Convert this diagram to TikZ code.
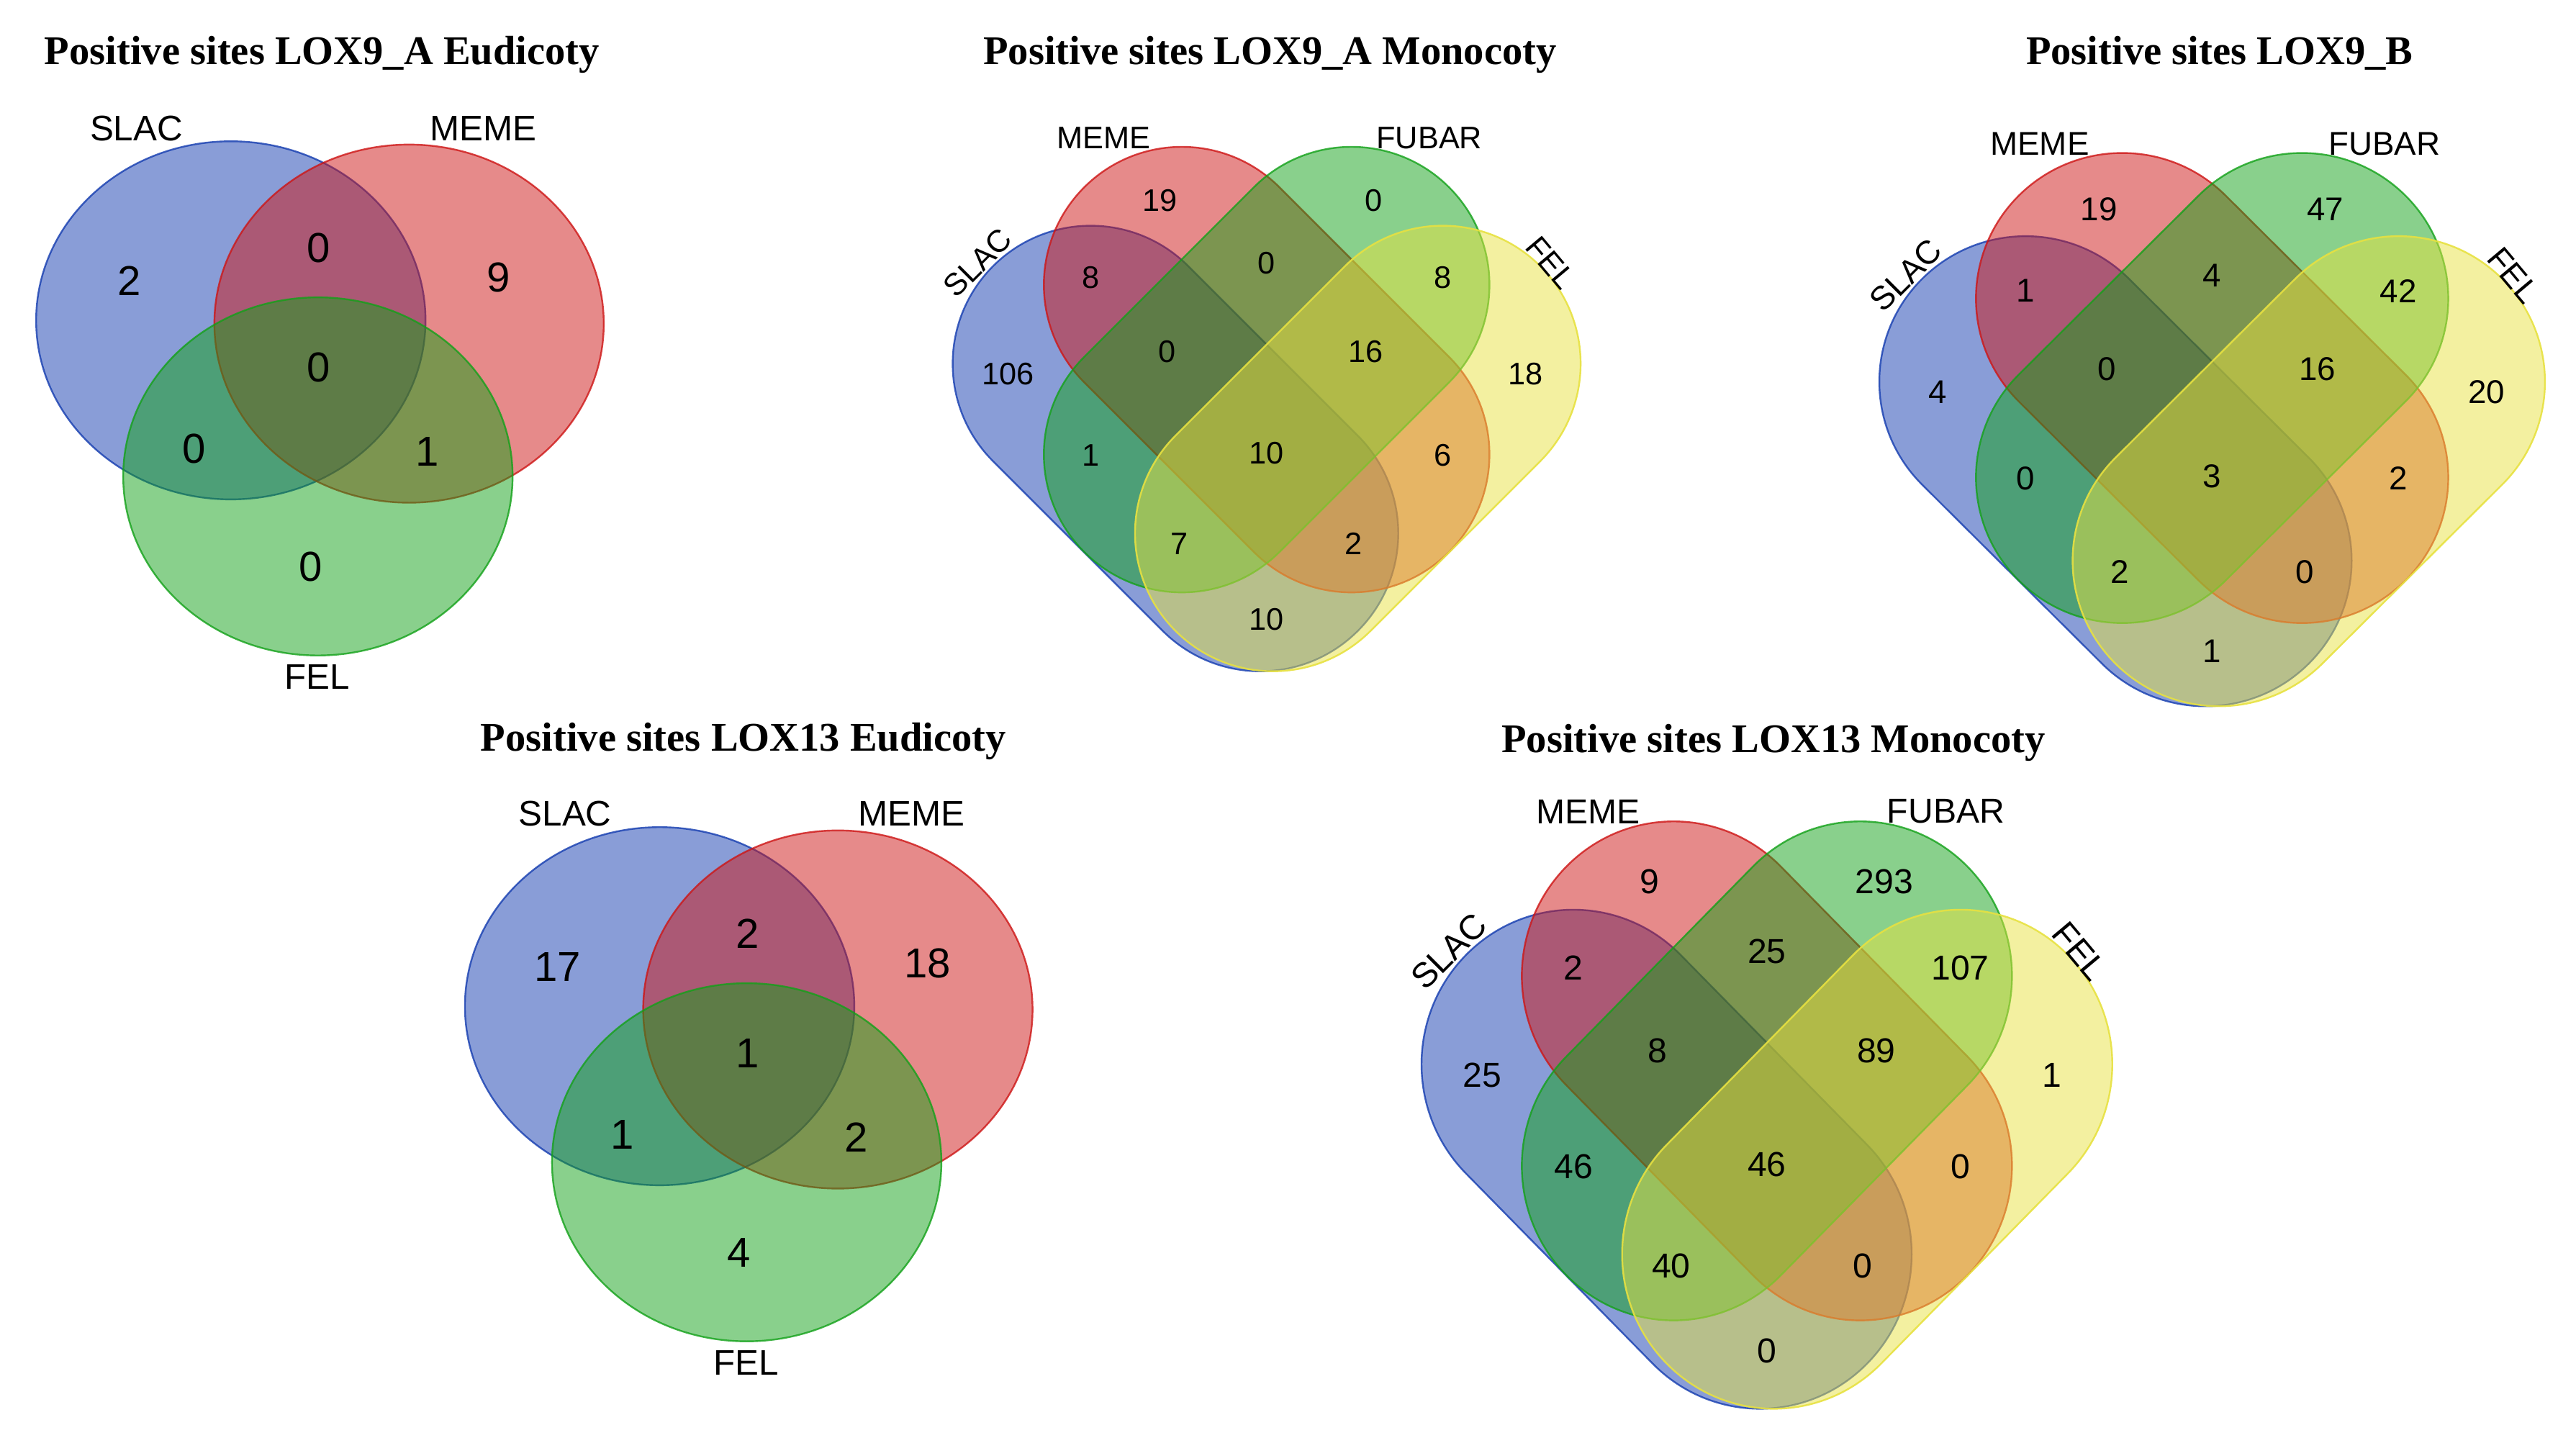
\documentclass[tikz,border=0pt]{standalone}
\usepackage{fontspec}
\setmainfont{Liberation Sans}
\newfontfamily\titlefont{Liberation Serif}
\usepackage{tikz}

\definecolor{vennblue}{RGB}{20,60,175}
\definecolor{vennred}{RGB}{205,21,21}
\definecolor{venngreen}{RGB}{19,161,25}
\definecolor{vennyellow}{RGB}{231,225,65}

\tikzset{
  blueset/.style={draw=vennblue, fill=vennblue, fill opacity=0.5, draw opacity=0.8, line width=0.6pt},
  redset/.style={draw=vennred, fill=vennred, fill opacity=0.5, draw opacity=0.8, line width=0.6pt},
  greenset/.style={draw=venngreen, fill=venngreen, fill opacity=0.5, draw opacity=0.8, line width=0.6pt},
  yellowset/.style={draw=vennyellow, fill=vennyellow, fill opacity=0.5, draw opacity=0.9, line width=0.6pt},
  plottitle/.style={anchor=base, font=\titlefont\bfseries\fontsize{14.1}{16}\selectfont},
  setlabel/.style={font=\fontsize{12.3}{14}\selectfont}
}

% one set of the four-set diagram: style, centre, angle
\newcommand{\setcapsule}[3]{%
  \draw[#1, shift={(#2)}, rotate=#3] (-73,-84) -- (73,-84)
    arc[start angle=-90, end angle=90, radius=84] -- (-73,84)
    arc[start angle=90, end angle=270, radius=84] -- cycle;}

% three sets: SLAC, MEME, FEL
\newcommand{\vennthree}[1]{%
  \draw[blueset] (140.5,195) ellipse [x radius=118.5, y radius=109];
  \draw[redset] (249,197) ellipse [x radius=118.5, y radius=109];
  \draw[greenset] (193.5,290) ellipse [x radius=118.5, y radius=109];
  \foreach \x/\y [count=\i] in {78.5/171, 194/151, 303.5/169, 194/223.5, 118/273, 260/275, 189/345}
    \coordinate (#1-\i) at (\x,\y);
  \node[setlabel] (#1slac) at (83,78) {SLAC};
  \node[setlabel] (#1meme) at (294,78) {MEME};
  \node[setlabel] (#1fel) at (193,412) {FEL};
}

% four sets: SLAC, MEME, FUBAR, FEL
\newcommand{\vennfour}[1]{%
  \setcapsule{blueset}{-55.5,-3}{-45}
  \setcapsule{redset}{0,-51}{-45}
  \setcapsule{greenset}{0,-51}{45}
  \setcapsule{yellowset}{55.5,-3}{45}
  \foreach \x/\y [count=\i] in {-157.5/-48.5, -65/-154, 65/-154, 157.5/-48.5,
      -107/-107, 0/-116, 107/-107, -60.5/-62, 60.5/-62,
      -107/1, 0/0, 107/1, -53/55, 53/55, 0/101}
    \coordinate (#1-\i) at (\x,\y);
  \node[rotate=45] (#1slac) at (-176,-116) {SLAC};
  \node (#1meme) at (-99,-192) {MEME};
  \node (#1fubar) at (99,-192) {FUBAR};
  \node[rotate=-50] (#1fel) at (173,-116) {FEL};
}

\begin{document}
\begin{tikzpicture}[x=0.02cm, y=-0.02cm]
\useasboundingbox (0,0) rectangle (1568,875);

\node[plottitle] (tltitle) at (196,39) {Positive sites LOX9\_A Eudicoty};
\node[plottitle] (tmtitle) at (773,39) {Positive sites LOX9\_A Monocoty};
\node[plottitle] (trtitle) at (1351,39) {Positive sites LOX9\_B};
\node[plottitle] (bltitle) at (452.5,457) {Positive sites LOX13 Eudicoty};
\node[plottitle] (brtitle) at (1079.5,458) {Positive sites LOX13 Monocoty};

% LOX9_A Eudicoty
\begin{scope}[every node/.style={font=\fontsize{14.5}{16}\selectfont}]
\vennthree{tl}
\foreach \v [count=\i] in {2,0,9,0,0,1,0}
  \node (tl\i) at (tl-\i) {\v};
\end{scope}

% LOX13 Eudicoty
\begin{scope}[shift={(261,417.5)}, every node/.style={font=\fontsize{14.5}{16}\selectfont}]
\vennthree{bl}
\foreach \v [count=\i] in {17,2,18,1,1,2,4}
  \node (bl\i) at (bl-\i) {\v};
\end{scope}

% LOX9_A Monocoty
\begin{scope}[shift={(771,276)}, every node/.style={font=\fontsize{10.8}{12}\selectfont}]
\vennfour{tm}
\foreach \v [count=\i] in {106,19,0,18,8,0,8,0,16,1,10,6,7,2,10}
  \node (tm\i) at (tm-\i) {\v};
\end{scope}

% LOX9_B
\begin{scope}[shift={(1346.5,290)}, xscale=1.06, yscale=1.055, every node/.style={font=\fontsize{11.4}{13}\selectfont}]
\vennfour{tr}
\foreach \v [count=\i] in {4,19,47,20,1,4,42,0,16,0,3,2,2,0,1}
  \node (tr\i) at (tr-\i) {\v};
\end{scope}

% LOX13 Monocoty
\begin{scope}[shift={(1075.5,709)}, xscale=1.10, yscale=1.12, every node/.style={font=\fontsize{12}{14}\selectfont}]
\vennfour{br}
\foreach \v [count=\i] in {25,9,293,1,2,25,107,8,89,46,46,0,40,0,0}
  \node (br\i) at (br-\i) {\v};
\end{scope}

\end{tikzpicture}
\end{document}
